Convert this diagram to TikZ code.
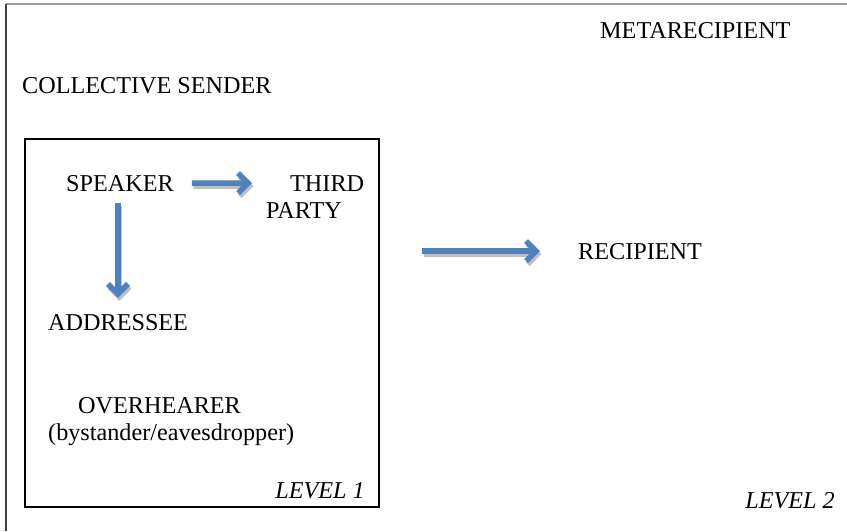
\documentclass[tikz,border=0pt]{standalone}
\usepackage{fontspec}
\setmainfont{Liberation Serif}
\usetikzlibrary{arrows.meta}

\definecolor{arrowblue}{RGB}{79,129,189}
\definecolor{shadowgray}{RGB}{192,192,192}

\begin{document}
\begin{tikzpicture}[
                x = 1pt, y = -1pt, % pixel grid of the reference
                > = {Straight Barb[length=10pt, width=20pt]}, % arrow head style
                line join = miter,
                bigarrow/.style = {->, draw = arrowblue, line width = 5.5pt},
                arrowshadow/.style = {->, draw = shadowgray, line width = 5.5pt, transform canvas = {shift = {(1.5pt,-3pt)}}}
            ]

            \tikzstyle{every node}=[
            inner sep = 0pt,
            anchor = base west,
            font = \fontsize{24.2}{27}\selectfont
            ]

            \useasboundingbox (0,0) rectangle (847,531);

            % outer frame (level 2)
            \draw[shadowgray!80!black, line width = 1.5pt] (847,4) -- (6,4);
            \draw[black!75, line width = 2pt] (6,4) -- (6,531);

            % inner frame (level 1)
            \node[draw = black, line width = 2.5pt, minimum width = 354pt, minimum height = 368pt, anchor = center] (box) at (202,323) {};

            \node (meta) at (600,38) {METARECIPIENT};
            \node (sender) at (22,93) {COLLECTIVE SENDER};
            \node (speaker) at (66,191) {SPEAKER};
            \node (third) at (290,191) {THIRD};
            \node (party) at (266,218) {PARTY};
            \node (recipient) at (578,259) {RECIPIENT};
            \node (addressee) at (48,330) {ADDRESSEE};
            \node (overhearer) at (78,413) {OVERHEARER};
            \node (bystander) at (48,440) {(bystander/eavesdropper)};
            \node[anchor = base east] (level1) at (365,498) {\itshape LEVEL 1};
            \node[anchor = base east] (level2) at (835,508) {\itshape LEVEL 2};

            % shadows first, then the arrows
            \draw[arrowshadow, shorten < = 18pt, shorten > = 38pt] (speaker.east) -- (third.west);
            \draw[arrowshadow, shorten < = 12pt, shorten > = 16pt] ([xshift=-2pt]speaker.south) -- ([xshift=-2pt]speaker.south |- addressee.north);
            \draw[arrowshadow, shorten < = 42pt, shorten > = 38pt] (box.east |- recipient.west) -- (recipient.west);

            \draw[bigarrow, shorten < = 18pt, shorten > = 38pt] (speaker.east) -- (third.west);
            \draw[bigarrow, shorten < = 12pt, shorten > = 16pt] ([xshift=-2pt]speaker.south) -- ([xshift=-2pt]speaker.south |- addressee.north);
            \draw[bigarrow, shorten < = 42pt, shorten > = 38pt] (box.east |- recipient.west) -- (recipient.west);
        \end{tikzpicture}
\end{document}
